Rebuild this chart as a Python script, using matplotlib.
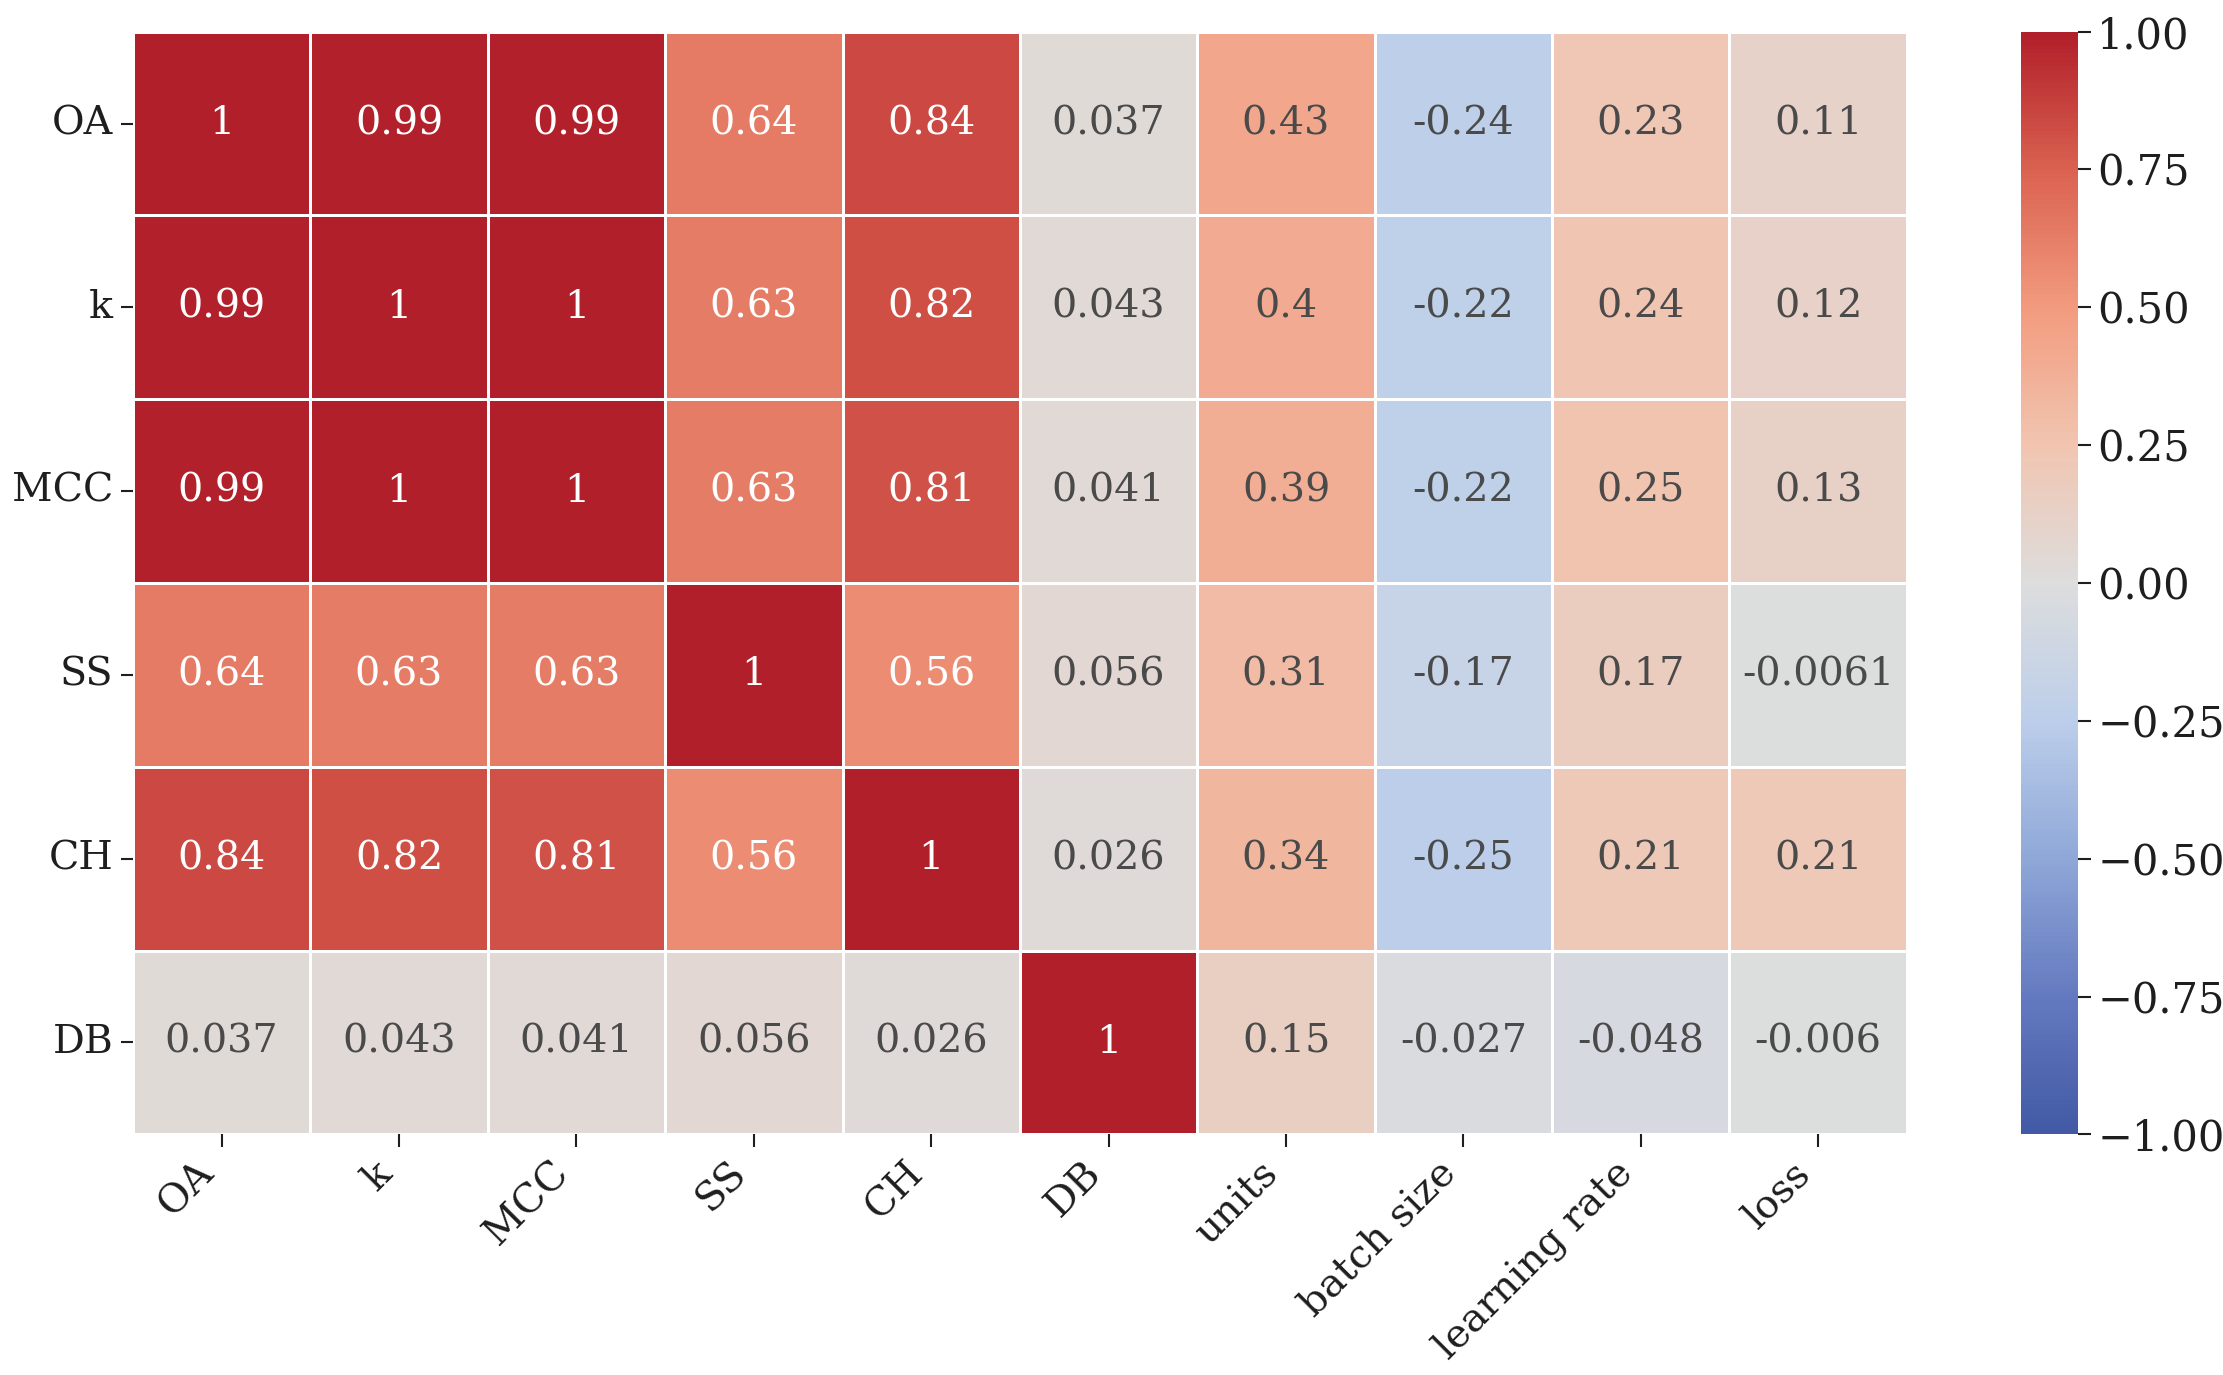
import numpy as np
import pandas as pd
import matplotlib
matplotlib.use("Agg")
import matplotlib.pyplot as plt
from matplotlib.colors import LinearSegmentedColormap
import seaborn as sns

plt.rcParams['font.family'] = ['DejaVu Serif']

row_labels = ["OA", "k", "MCC", "SS", "CH", "DB"]
col_labels = ["OA", "k", "MCC", "SS", "CH", "DB", "units", "batch size", "learning rate", "loss"]

OA  = [1.0, 0.99, 0.99, 0.64, 0.84, 0.037, 0.43, -0.24, 0.23, 0.11]
k   = [0.99, 1.0, 1.0, 0.63, 0.82, 0.043, 0.40, -0.22, 0.24, 0.12]
MCC = [0.99, 1.0, 1.0, 0.63, 0.81, 0.041, 0.39, -0.22, 0.25, 0.13]
SS  = [0.64, 0.63, 0.63, 1.0, 0.56, 0.056, 0.31, -0.17, 0.17, -0.0061]
CH  = [0.84, 0.82, 0.81, 0.56, 1.0, 0.026, 0.34, -0.25, 0.21, 0.21]
DB  = [0.037, 0.043, 0.041, 0.056, 0.026, 1.0, 0.15, -0.027, -0.048, -0.006]

cbar_ticks = [-1.0, -0.75, -0.5, -0.25, 0.0, 0.25, 0.5, 0.75, 1.0]

# slightly muted coolwarm, as seen in the reference
cmap_colors = ["#425AA5", "#647AC0", "#8FA8D8", "#BCCEEA", "#DDDDDD",
               "#F1C5B1", "#F29B7E", "#DA6250", "#B11F2A"]
cmap = LinearSegmentedColormap.from_list("muted_coolwarm", cmap_colors, N=256)

df = pd.DataFrame([OA, k, MCC, SS, CH, DB], index=row_labels, columns=col_labels)

fig = plt.figure(figsize=(2223/150, 1375/150), dpi=150)
ax = fig.add_axes([0.0598, 0.175, 0.798, 0.802])
cax = fig.add_axes([0.909, 0.175, 0.0256, 0.802])

sns.heatmap(df, ax=ax, cbar_ax=cax, cmap=cmap, vmin=-1, vmax=1,
            annot=True, fmt=".2g", annot_kws={"fontsize": 19},
            linewidths=0.5, linecolor="white")

# soften dark annotation text
for t in ax.texts:
    c = matplotlib.colors.to_rgb(t.get_color())
    if sum(c) < 1.5:
        t.set_color("#4a4a4a")

ax.set_xticklabels(col_labels, rotation=45, ha="right", fontsize=19, color="#1e1e1e")
ax.set_yticklabels(row_labels, rotation=0, fontsize=19, color="#1e1e1e")
ax.tick_params(axis="both", length=6, width=1, color="#1e1e1e")
cax.set_yticks(cbar_ticks)
cax.set_yticklabels([f"{v:.2f}".replace("-", "\u2212") for v in cbar_ticks], color="#1e1e1e")
cax.tick_params(labelsize=20, length=6, width=1, color="#1e1e1e")

fig.savefig("out.png", dpi=150)
